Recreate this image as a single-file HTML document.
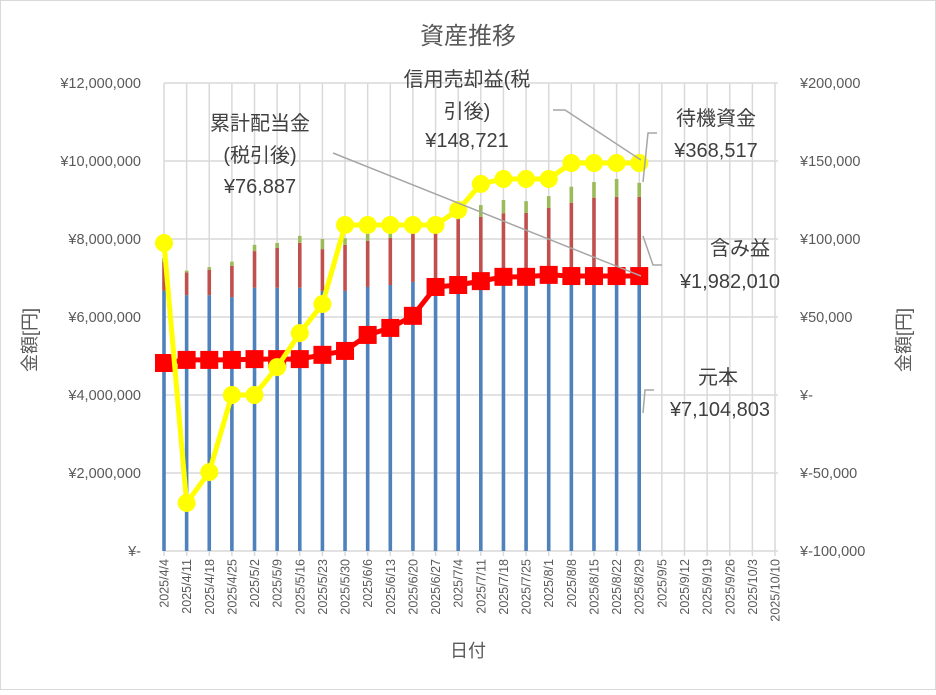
<!DOCTYPE html>
<html><head><meta charset="utf-8"><style>
body{margin:0;background:#fff}
svg text{font-family:"Liberation Sans","Noto Sans CJK JP",sans-serif}
</style></head><body>
<svg id="c" width="936" height="690">
<rect x="0.5" y="0.5" width="935" height="689" fill="#fff" stroke="#d9d9d9"/>
<text x="468" y="44" font-size="24" text-anchor="middle" fill="#595959">資産推移</text>
<text transform="translate(36,340) rotate(-90)" font-size="18" text-anchor="middle" fill="#595959">金額[円]</text>
<text transform="translate(910,340) rotate(-90)" font-size="18" text-anchor="middle" fill="#595959">金額[円]</text>
<text x="468" y="657" font-size="18" text-anchor="middle" fill="#595959">日付</text>
<g id="grid"></g><g id="bars"></g><g id="lines"></g>
<g stroke="#a6a6a6" stroke-width="1.5" fill="none">
<polyline points="333,153 641,276"/>
<polyline points="553,110 565,110 641,160"/>
<polyline points="643,182 648,133 657,133"/>
<polyline points="643,236 653,265 662,265"/>
<polyline points="643,413 645,390 654,390"/>
</g>
<g font-size="20" fill="#404040" text-anchor="middle">
<text x="467" y="86">信用売却益(税</text>
<text x="467" y="118">引後)</text>
<text x="467" y="147">¥148,721</text>
<text x="260" y="130">累計配当金</text>
<text x="260" y="162">(税引後)</text>
<text x="260" y="193">¥76,887</text>
<text x="716" y="125">待機資金</text>
<text x="716" y="157">¥368,517</text>
<text x="740" y="255">含み益</text>
<text x="730" y="288">¥1,982,010</text>
<text x="718" y="384">元本</text>
<text x="720" y="416">¥7,104,803</text>
</g>
</svg>
<script>
const dates=["2025/4/4","2025/4/11","2025/4/18","2025/4/25","2025/5/2","2025/5/9","2025/5/16","2025/5/23","2025/5/30","2025/6/6","2025/6/13","2025/6/20","2025/6/27","2025/7/4","2025/7/11","2025/7/18","2025/7/25","2025/8/1","2025/8/8","2025/8/15","2025/8/22","2025/8/29","2025/9/5","2025/9/12","2025/9/19","2025/9/26","2025/10/3","2025/10/10"];
const blueBar=[6.67,6.56,6.56,6.51,6.75,6.75,6.75,6.67,6.67,6.77,6.82,6.90,6.95,7.0,7.0,7.02,7.03,7.03,7.03,7.03,7.03,7.03];
const redBar=[0.75,0.58,0.65,0.80,0.94,1.02,1.15,1.07,1.18,1.18,1.21,1.25,1.28,1.51,1.57,1.64,1.64,1.77,1.90,2.03,2.05,2.05];
const greenBar=[0.09,0.05,0.07,0.11,0.16,0.13,0.18,0.26,0.17,0.20,0.16,0.13,0.13,0.16,0.30,0.34,0.30,0.30,0.41,0.40,0.46,0.36];
const principalLine=[4.82,4.90,4.90,4.90,4.92,4.92,4.92,5.03,5.13,5.54,5.72,6.03,6.77,6.82,6.92,7.03,7.03,7.08,7.05,7.05,7.05,7.05];
const profitLine=[97.4,-69.2,-49.4,0,0,17.9,39.7,58.3,109,109,109,109,109,118.6,135.3,138.5,138.5,138.5,148.7,148.7,148.7,148.7];
const leftTicks=["¥-","¥2,000,000","¥4,000,000","¥6,000,000","¥8,000,000","¥10,000,000","¥12,000,000"];
const rightTicks=["¥-100,000","¥-50,000","¥-","¥50,000","¥100,000","¥150,000","¥200,000"];
const NS="http://www.w3.org/2000/svg";
const X0=164,DX=22.63,Y0=551,YT=83;
const xs=i=>X0+i*DX;
const yL=v=>Y0-(v/12)*(Y0-YT);
const yR=v=>Y0-((v+100)/300)*(Y0-YT);
function mk(p,t,a){const e=document.createElementNS(NS,t);for(const k in a)e.setAttribute(k,a[k]);p.appendChild(e);return e;}
const grid=document.getElementById('grid'),bars=document.getElementById('bars'),lines=document.getElementById('lines');
for(let i=0;i<dates.length;i++){
 const l=mk(grid,'line',{x1:xs(i),x2:xs(i),y1:YT,y2:Y0+5,stroke:'#d9d9d9','stroke-width':1.5});
 
 
 const t=mk(grid,'text',{transform:`translate(${xs(i)+4.5},${Y0+8}) rotate(-90)`,'font-size':12.5,fill:'#595959','text-anchor':'end'});
 t.textContent=dates[i];
 
 
}
for(let k=0;k<leftTicks.length;k++){
 const y=Y0-k*(Y0-YT)/6;
 const l=mk(grid,'line',{x1:X0,x2:778,y1:y,y2:y,stroke:'#d9d9d9','stroke-width':1.5});
 
 
 const t=mk(grid,'text',{x:141,y:y+5,'font-size':14.5,fill:'#595959','text-anchor':'end'});
 t.textContent=leftTicks[k];
 
 
 const r=mk(grid,'text',{x:800,y:y+5,'font-size':14.5,fill:'#595959','text-anchor':'start'});
 r.textContent=rightTicks[k];
 
 
}
for(let i=0;i<blueBar.length;i++){
 const x=xs(i)-1.8,b=blueBar[i],r=redBar[i],g=greenBar[i];
 const a=mk(bars,'rect',{x:x,width:3.6,y:yL(b),height:Y0-yL(b),fill:'#4f81bd'});
 
 
 const c=mk(bars,'rect',{x:x,width:3.6,y:yL(b+r),height:yL(b)-yL(b+r),fill:'#c0504d'});
 
 
 const d=mk(bars,'rect',{x:x,width:3.6,y:yL(b+r+g),height:yL(b+r)-yL(b+r+g),fill:'#9bbb59'});
 
 
}
const pl=mk(lines,'polyline',{points:principalLine.map((v,i)=>xs(i)+','+yL(v)).join(' '),fill:'none',stroke:'#ff0000','stroke-width':5});


principalLine.forEach((v,i)=>{const m=mk(lines,'rect',{x:xs(i)-9,y:yL(v)-9,width:18,height:18,fill:'#ff0000'});
 
 });
const yl=mk(lines,'polyline',{points:profitLine.map((v,i)=>xs(i)+','+yR(v)).join(' '),fill:'none',stroke:'#ffff00','stroke-width':5});


profitLine.forEach((v,i)=>{const m=mk(lines,'circle',{cx:xs(i),cy:yR(v),r:9,fill:'#ffff00'});
 
 });
</script>
</body></html>
